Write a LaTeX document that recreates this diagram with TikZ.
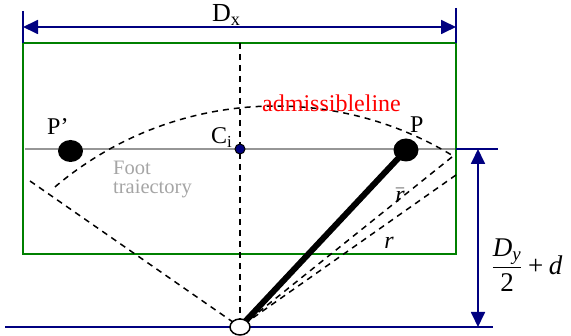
\documentclass[tikz,border=0pt]{standalone}
\usepackage{amsmath}
\usepackage{fontspec}
\setmainfont{Liberation Serif}
\usetikzlibrary{arrows.meta,shapes.geometric}
\definecolor{navyb}{RGB}{0,0,128}
\definecolor{greenb}{RGB}{0,128,0}
\definecolor{grayl}{RGB}{150,150,150}
\definecolor{grayt}{RGB}{165,165,165}
\begin{document}
\begin{tikzpicture}[x=1pt,y=-1pt,
  dim/.style={navyb, line width=1.8pt},
  dimarrow/.style={dim, {Triangle[length=15pt,width=14pt]}-{Triangle[length=15pt,width=14pt]}},
  dsh/.style={black, line width=1.5pt, dash pattern=on 6pt off 5pt},
  lbl/.style={inner sep=0pt, font=\fontsize{24}{24}\selectfont}]
\useasboundingbox (0,0) rectangle (571,336);
% coordinates
\coordinate (pvc) at (240,327);
\coordinate (Pc) at (406,150);
\coordinate (Ppc) at (70.5,151);
\coordinate (Cic) at (240,149);
\coordinate (arcc) at (275.5,447);
\coordinate (vtop) at (240,43);
\coordinate (lend) at (30,181);
\coordinate (rbend) at (452,157);
\coordinate (rend) at (456,175);
\coordinate (gl) at (25,149);
\coordinate (gr) at (455,149);
\coordinate (dxa) at (23,27);
\coordinate (dxb) at (456,27);
\coordinate (tl1) at (23,11);
\coordinate (tl2) at (23,43);
\coordinate (tr1) at (456,8);
\coordinate (tr2) at (456,43);
\coordinate (ht1) at (456,149);
\coordinate (ht2) at (498,149);
\coordinate (bl1) at (5,327);
\coordinate (bl2) at (493,327);
\coordinate (va) at (478,149);
\coordinate (vb) at (478,327);
% green frame
\draw[greenb, line width=1.8pt] (23,43) rectangle (456,254);
% dimension lines
\draw[dim] (tl1) -- (tl2);
\draw[dim] (tr1) -- (tr2);
\draw[dimarrow] (dxa) -- (dxb);
\draw[dim] (ht1) -- (ht2);
\draw[dim] (bl1) -- (bl2);
\draw[dimarrow] (va) -- (vb);
% foot trajectory
\draw[grayl, line width=1.8pt] (gl) -- (gr);
% dashed lines
\draw[dsh] (vtop) -- (pvc);
\draw[dsh] (lend) -- (pvc);
\draw[dsh] (rbend) -- (pvc);
\draw[dsh] (rend) -- (pvc);
\draw[dsh] (arcc) ++(-130.3:341) arc[start angle=-130.3, end angle=-58.6, radius=341];
% leg
\draw[line width=6pt] (pvc) -- (Pc);
% nodes
\node[ellipse, fill=black, minimum width=25pt, minimum height=22pt, inner sep=0pt] (Pp) at (Ppc) {};
\node[ellipse, fill=black, minimum width=25pt, minimum height=23pt, inner sep=0pt] (P) at (Pc) {};
\node[circle, draw=black, fill=navyb, line width=1pt, minimum size=10pt, inner sep=0pt] (Ci) at (Cic) {};
\node[ellipse, draw=black, fill=white, line width=1.5pt, minimum width=20pt, minimum height=16pt, inner sep=0pt] (pv) at (pvc) {};
% labels
\node[lbl, anchor=base west, font=\fontsize{26}{26}\selectfont] (dxl) at (212,22) {D\textsubscript{x}};
\node[lbl, anchor=base west] (cil) at (211,144) {C\textsubscript{i}};
\node[lbl, anchor=base west] (ppl) at (47,135) {P’};
\node[lbl, anchor=base west] (pl) at (410,133) {P};
\node[lbl, anchor=base west, text=red] (adm) at (262,112) {admissibleline};
\node[anchor=base west, inner sep=0pt, font=\fontsize{20.5}{19}\selectfont, text=grayt, align=left] (foot) at (113,194) {Foot\\traiectory};
\node[lbl, anchor=base] (rbl) at (400,203) {$\bar{\textit{r}}$};
\node[lbl, anchor=base] (rl) at (389,249) {\textit{r}};
\node[lbl, font=\fontsize{27}{27}\selectfont] (frac) at (527,265) {$\displaystyle\frac{\textit{D}_{\textit{y}}}{\textrm{2}}\mathbin{\textrm{+}}\textit{d}$};
\end{tikzpicture}
\end{document}
